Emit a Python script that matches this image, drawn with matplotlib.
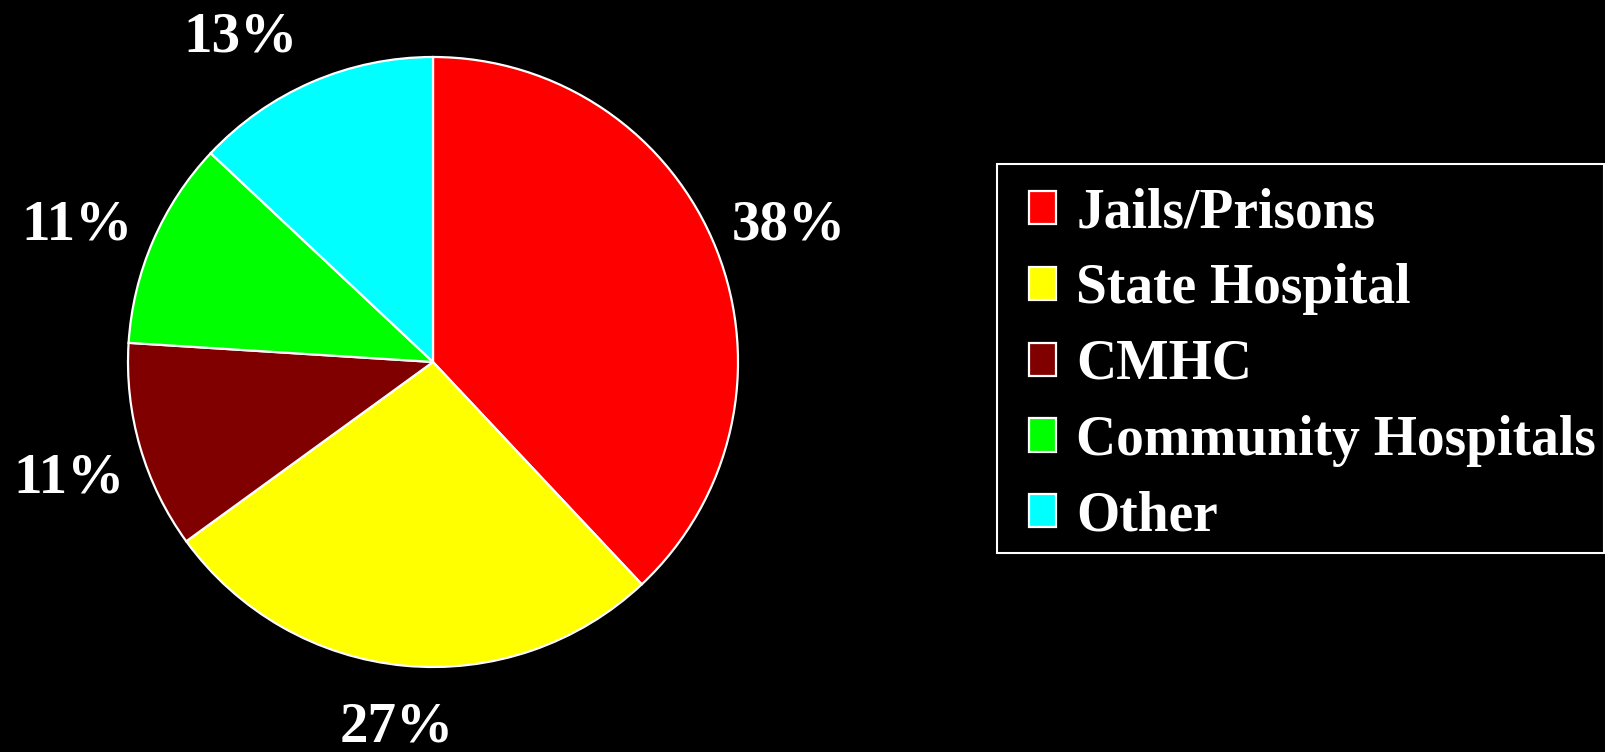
import matplotlib.pyplot as plt
from matplotlib.patches import Rectangle

categorias = ['Jails/Prisons', 'State Hospital', 'CMHC', 'Community Hospitals', 'Other']
valores = [38, 27, 11, 11, 13]
cores = ['#ff0000', '#ffff00', '#800000', '#00ff00', '#00ffff']

# posição (px, a partir do topo) de cada rótulo de porcentagem
pos_rotulos = [(789, 226), (397, 728), (69, 479), (77, 226), (241, 37)]

plt.rcParams['font.family'] = ['Liberation Serif', 'DejaVu Serif']
plt.rcParams['font.weight'] = 'bold'

W, H = 1606, 752
fig = plt.figure(figsize=(W / 100, H / 100), dpi=100, facecolor='black')
ax = fig.add_axes([0, 0, 1, 1])
ax.set_facecolor('black')

# pizza em coordenadas de pixel (y para cima)
wedges, textos, pcts = ax.pie(
    valores, colors=cores, startangle=90, counterclock=False,
    center=(433, 390), radius=305,
    autopct='%d%%', pctdistance=1.245,
    wedgeprops={'edgecolor': 'white', 'linewidth': 1.6},
    textprops={'color': 'white', 'fontsize': 41, 'fontweight': 'bold'},
)
ax.set_xlim(0, W)
ax.set_ylim(0, H)
ax.set_aspect('equal')
ax.axis('off')

for t, (x, y) in zip(pcts, pos_rotulos):
    t.set_position((x, H - y))

# legenda sem moldura; a caixa é desenhada à parte
leg = ax.legend(
    wedges, categorias, loc='upper left',
    bbox_to_anchor=(1029 / W, 1 - 187 / H), bbox_transform=fig.transFigure,
    borderaxespad=0, borderpad=0, frameon=False,
    prop={'family': 'Liberation Serif', 'weight': 'bold', 'size': 40},
    handlelength=0.48, handleheight=0.54, handletextpad=0.37,
    labelspacing=0.43,
)
for t in leg.get_texts():
    t.set_color('white')

caixa = Rectangle((997 / W, 1 - 553 / H), (1604 - 997) / W, (553 - 164) / H,
                  transform=fig.transFigure, fill=False,
                  edgecolor='white', linewidth=1.5)
fig.add_artist(caixa)

fig.savefig('out.png', dpi=100, facecolor='black')
